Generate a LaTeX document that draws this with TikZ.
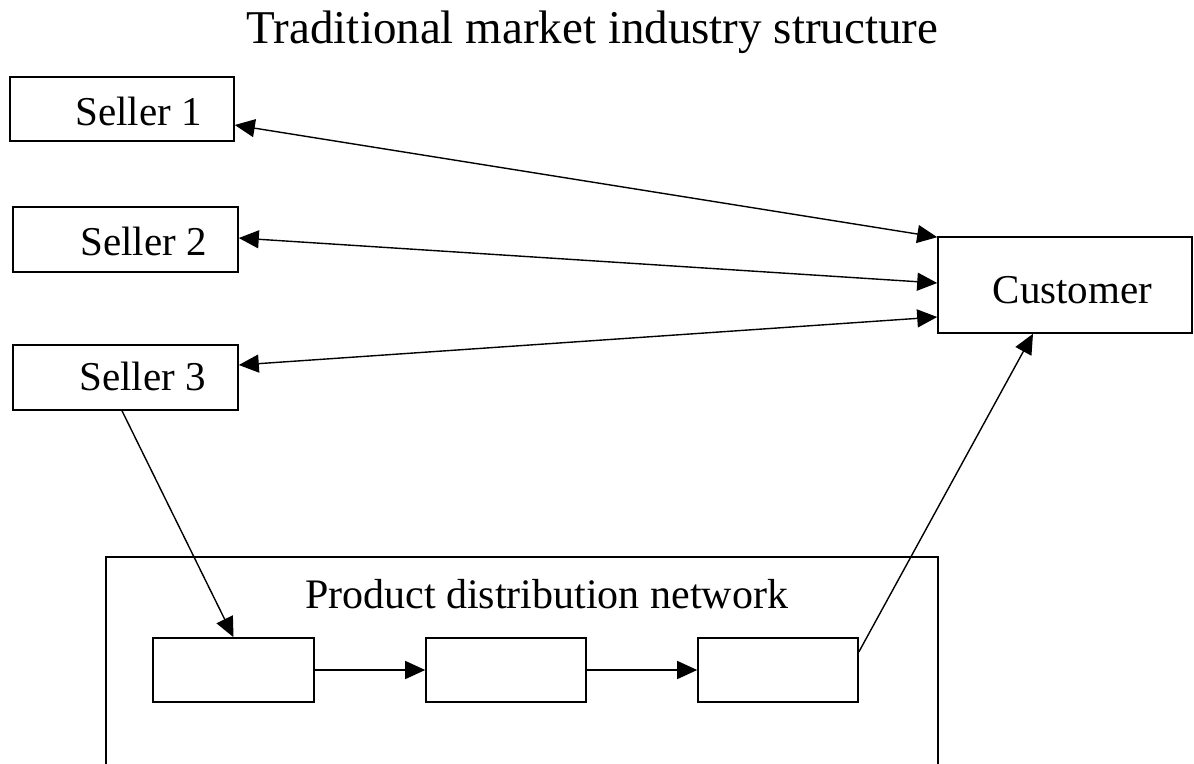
\documentclass[tikz,border=0pt]{standalone}
\usepackage{fontspec}
\setmainfont{Liberation Serif}
\usetikzlibrary{arrows.meta}
\begin{document}
\begin{tikzpicture}[x=1pt,y=-1pt,
  box/.style={draw, line width=1.6pt, rectangle, inner sep=0pt},
  lbl/.style={inner sep=0pt, anchor=base, font=\fontsize{41}{41}\selectfont},
  conn/.style={line width=1.4pt, -{Triangle[length=20pt,width=18pt]}},
  dconn/.style={line width=1.4pt, {Triangle[length=20pt,width=18pt]}-{Triangle[length=20pt,width=18pt]}}]
\useasboundingbox (0,0) rectangle (1194,763);
\fill[white] (0,0) rectangle (1194,763);
% title
\node[lbl, font=\fontsize{47}{47}\selectfont] (title) at (592.5,43) {Traditional market industry structure};
% sellers
\node[box, minimum width=224pt, minimum height=64pt] (s1) at (122,109) {};
\node[lbl, anchor=base east] (t1) at (202,125) {Seller 1};
\node[box, minimum width=225pt, minimum height=65pt] (s2) at (125.5,239.5) {};
\node[lbl, anchor=base east] (t2) at (207,255) {Seller 2};
\node[box, minimum width=225pt, minimum height=65pt] (s3) at (125.5,377.5) {};
\node[lbl, anchor=base east] (t3) at (206,390) {Seller 3};
% customer
\node[box, minimum width=254pt, minimum height=96pt] (cust) at (1065,285) {};
\node[lbl] (tc) at (1072.5,303) {Customer};
% product distribution network
\draw[line width=1.6pt] (106,770) -- (106,557) coordinate (pn) -- (938,557) -- (938,770);
\node[lbl, font=\fontsize{42}{42}\selectfont] (tp) at (546.5,608) {Product distribution network};
\node[box, minimum width=161pt, minimum height=64pt] (b1) at (233.5,670) {};
\node[box, minimum width=160pt, minimum height=64pt] (b2) at (506,670) {};
\node[box, minimum width=160pt, minimum height=64pt] (b3) at (778,670) {};
% connectors
\draw[dconn] ([yshift=-16pt]s1.east) -- ([yshift=-1pt]cust.north west);
\draw[dconn] ([yshift=1.5pt]s2.east) -- ([yshift=2pt]cust.west);
\draw[dconn] ([yshift=12.5pt]s3.east) -- ([yshift=-32pt]cust.west);
\draw[conn] ([xshift=-3.5pt]s3.south) -- (b1.north);
\draw[conn] (b1.east) -- (b2.west);
\draw[conn] (b2.east) -- (b3.west);
\draw[conn] ([yshift=18pt]b3.east) -- ([xshift=-32pt]cust.south);
\end{tikzpicture}
\end{document}
